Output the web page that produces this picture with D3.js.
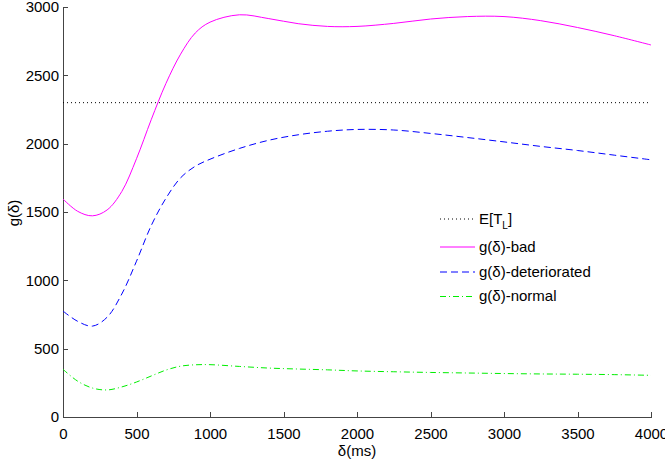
<!DOCTYPE html>
<html>
<head>
<meta charset="utf-8">
<title>g(delta) plot</title>
<script src="https://d3js.org/d3.v7.min.js"></script>
<style>
	body { margin:0; background:#fff; }
	text { font-family: "Liberation Sans", Arial, Helvetica, sans-serif; font-size:15px; fill:#000; }
	.axis path, .axis line { stroke:#444; shape-rendering:crispEdges; }
	.axis text { font-size:15px; }
	.line { fill:none; stroke-width:1; }
</style>
</head>
<body>
<div class="chartContainer"></div>
<script>
// sample times (ms)
var delta = [0, 100, 200, 300, 400, 500, 600, 700, 800, 900, 1000, 1200, 1400, 1600, 1800, 2000, 2250, 2500, 2750, 3000, 3250, 3500, 3750, 4000];
// g(delta) values
var gBad = [1595, 1505, 1472, 1515, 1650, 1890, 2175, 2440, 2655, 2810, 2889, 2943, 2915, 2878, 2858, 2858, 2880, 2912, 2930, 2930, 2900, 2850, 2790, 2722];
var gDeteriorated = [775, 700, 665, 730, 900, 1140, 1400, 1600, 1750, 1835, 1886, 1965, 2025, 2065, 2091, 2104, 2100, 2075, 2045, 2013, 1980, 1950, 1916, 1882];
var gNormal = [349, 262, 212, 198, 220, 256, 300, 343, 372, 382, 383, 370, 358, 351, 345, 337, 331, 326, 322, 318, 315, 313, 310, 305];
var expectedTL = 2300;
var xTicks = [0, 500, 1000, 1500, 2000, 2500, 3000, 3500, 4000];
var yTicks = [0, 500, 1000, 1500, 2000, 2500, 3000];
var legendLabels = ["E[T", "g(\u03b4)-bad", "g(\u03b4)-deteriorated", "g(\u03b4)-normal"];

var totalWidth = 665, totalHeight = 468;
var margin = {top: 7, right: 14, bottom: 51, left: 63};
var width = totalWidth - margin.left - margin.right,
	height = totalHeight - margin.top - margin.bottom;

var svg = d3.select(".chartContainer").append("svg")
	.attr("width", totalWidth)
	.attr("height", totalHeight)
	.append("g")
	.attr("transform", "translate(" + margin.left + "," + margin.top + ")");

var x = d3.scaleLinear().domain([0, 4000]).range([0, width]);
var y = d3.scaleLinear().domain([0, 3000]).range([height, 0]);

// axes, ticks point inward like matlab
svg.append("g")
	.attr("class", "axis x-axis")
	.attr("transform", "translate(0," + height + ")")
	.call(d3.axisBottom(x).tickValues(xTicks).tickFormat(d3.format("d"))
		.tickSizeInner(-5).tickSizeOuter(0).tickPadding(11));

svg.append("g")
	.attr("class", "axis y-axis")
	.call(d3.axisLeft(y).tickValues(yTicks).tickFormat(d3.format("d"))
		.tickSizeInner(-5).tickSizeOuter(0).tickPadding(4));

// threshold line
svg.append("line")
	.attr("x1", x(0)).attr("x2", x(4000))
	.attr("y1", y(expectedTL)).attr("y2", y(expectedTL))
	.attr("stroke", "#000").attr("stroke-dasharray", "1,3");

var series = [
	{values: gBad, color: "#ff00ff", dash: null},
	{values: gDeteriorated, color: "#0000ff", dash: "7,4"},
	{values: gNormal, color: "#00ee00", dash: "6,3,1,3"}
];

var line = d3.line()
	.curve(d3.curveCatmullRom.alpha(0.5))
	.x(function(d, i) { return x(delta[i]); })
	.y(function(d) { return y(d); });

series.forEach(function(s) {
	svg.append("path")
		.attr("class", "line")
		.attr("d", line(s.values))
		.attr("stroke", s.color)
		.attr("stroke-dasharray", s.dash);
});

// axis labels
svg.append("text")
	.attr("x", width / 2).attr("y", 456 - margin.top)
	.attr("text-anchor", "middle")
	.text("\u03b4(ms)");

svg.append("text")
	.attr("transform", "translate(" + (19 - margin.left) + "," + (213 - margin.top) + ") rotate(-90)")
	.attr("text-anchor", "middle")
	.text("g(\u03b4)");

// legend, no box
var legend = svg.append("g").attr("transform", "translate(" + (440 - margin.left) + ",0)");
var legendRows = [
	{y: 219, color: "#000", dash: "1,3"},
	{y: 247, color: "#ff00ff", dash: null},
	{y: 272, color: "#0000ff", dash: "7,4"},
	{y: 296.5, color: "#00ee00", dash: "6,3,1,3"}
];
legendRows.forEach(function(r, i) {
	var ly = r.y - margin.top;
	legend.append("line")
		.attr("x1", 0).attr("x2", 35)
		.attr("y1", ly).attr("y2", ly)
		.attr("stroke", r.color)
		.attr("stroke-dasharray", r.dash);
	var t = legend.append("text")
		.attr("x", 39).attr("y", ly + 4.5)
		.text(legendLabels[i]);
	if (i === 0) {
		t.append("tspan").attr("dy", 5).style("font-size", "10px").text("L");
		t.append("tspan").attr("dy", -5).text("]");
	}
});
</script>
</body>
</html>
